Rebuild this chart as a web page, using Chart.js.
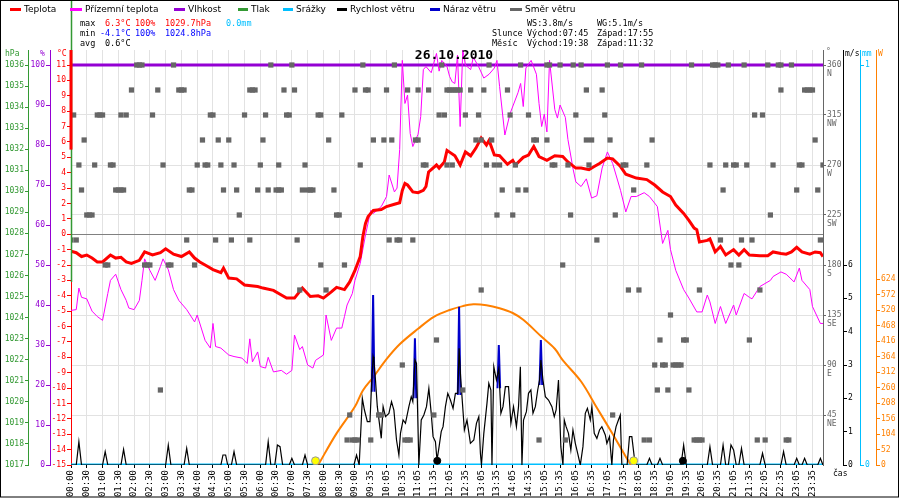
<!DOCTYPE html>
<html><head><meta charset="utf-8">
<script src="https://cdn.jsdelivr.net/npm/chart.js@4/dist/chart.umd.min.js"></script>
<style>html,body{margin:0;padding:0;background:#fff}canvas{display:block}</style>
</head><body>
<canvas id="c" width="900" height="500"></canvas>
<script>
// ---------- DATA (time in 5-minute sample steps from 00:00) ----------
const timeLabels = ['00:00','00:30','01:00','01:30','02:00','02:30','03:00','03:30','04:00','04:30','05:00','05:30','06:00','06:30','07:00','07:30','08:00','08:30','09:00','09:35','10:05','10:35','11:05','11:35','12:05','12:35','13:05','13:35','14:05','14:35','15:05','15:35','16:05','16:35','17:05','17:35','18:05','18:35','19:05','19:35','20:05','20:35','21:05','21:35','22:05','22:35','23:05','23:35'];
const pressureTicks = [1017,1018,1019,1020,1021,1022,1023,1024,1025,1026,1027,1028,1029,1030,1031,1032,1033,1034,1035,1036];
const humidityTicks = [0,10,20,30,40,50,60,70,80,90,100];
const tempTicks = [-15,-14,-13,-12,-11,-10,-9,-8,-7,-6,-5,-4,-3,-2,-1,0,1,2,3,4,5,6,7,8,9,10,11];
const dirTicks = [45,90,135,180,225,270,315,360];
const dirTickNames = ['NE','E','SE','S','SW','W','NW','N'];
const speedTicks = [0,1,2,3,4,5,6];
const rainTicks = [0,1];
const solarTicks = [0,52,104,156,208,260,312,364,416,468,520,572,624];

const temperature = [[0,-1.1],[2,-1.2],[4,-1.45],[6,-1.35],[8,-1.55],[10,-1.8],[12,-1.8],[15,-1.35],[17,-1.55],[19,-1.5],[21,-1.8],[23,-1.9],[26,-1.7],[28,-1.15],[31,-1.35],[34,-1.2],[36,-0.95],[39,-1.3],[42,-1.45],[45,-1.15],[47,-1.55],[49,-1.8],[52,-2.1],[54,-2.3],[57,-2.5],[58,-2.2],[60,-2.85],[63,-2.9],[66,-3.3],[71,-3.4],[73,-3.5],[77,-3.65],[80,-3.95],[82,-4.15],[85,-4.15],[88,-3.5],[91,-4.05],[94,-4.0],[96,-4.15],[99,-3.75],[101,-3.45],[104,-3.6],[106,-3.1],[108,-2.35],[109,-1.9],[110,-1.45],[111,-0.15],[112,0.7],[113,1.15],[115,1.55],[118,1.6],[120,1.8],[123,1.95],[125,2.05],[126,2.85],[127,3.3],[128,3.2],[130,2.75],[132,2.7],[134,2.85],[135,3.1],[136,4.05],[139,4.5],[140,4.3],[142,4.7],[143,5.45],[146,5.1],[148,4.5],[150,5.35],[152,5.1],[154,5.6],[156,6.25],[158,5.8],[159,6.1],[161,5.15],[163,5.1],[166,4.55],[168,4.8],[169,4.5],[172,5.0],[174,5.15],[176,5.7],[178,5.05],[181,4.8],[184,5.1],[187,5.05],[189,4.7],[192,4.3],[194,4.3],[197,4.2],[199,4.4],[201,4.6],[204,4.95],[206,4.9],[209,4.4],[211,3.9],[215,3.65],[219,3.55],[222,3.2],[225,2.75],[228,2.45],[230,1.9],[233,1.35],[235,0.9],[237,0.4],[238,0.3],[239,-0.5],[242,-0.4],[243,-0.3],[245,-1.15],[247,-0.8],[249,-1.35],[252,-1.0],[254,-1.35],[256,-1.0],[258,-1.35],[262,-1.4],[265,-1.4],[267,-1.15],[270,-1.25],[272,-1.3],[274,-1.15],[276,-0.85],[278,-1.15],[281,-1.3],[283,-1.15],[285,-1.2],[286,-1.45]];

const apparentTemp = [[0,-4.95],[2,-4.9],[3,-3.5],[4,-4.1],[6,-4.2],[8,-5.0],[10,-5.35],[12,-5.6],[14,-3.85],[15,-3.0],[17,-2.6],[19,-3.6],[21,-4.3],[22,-4.8],[24,-4.9],[26,-4.3],[27,-3.0],[28,-1.6],[30,-2.35],[32,-3.0],[34,-2.1],[35,-1.6],[37,-2.3],[39,-3.6],[41,-4.3],[44,-4.9],[47,-5.7],[48,-5.25],[51,-6.9],[53,-7.4],[54,-5.8],[55,-7.3],[57,-7.4],[60,-7.85],[62,-7.95],[65,-8.05],[67,-8.4],[68,-6.8],[69,-8.3],[71,-7.65],[72,-8.6],[74,-8.7],[75,-8.0],[77,-8.95],[80,-8.85],[82,-9.1],[84,-8.85],[85,-6.55],[87,-7.5],[88,-7.3],[90,-8.5],[92,-8.7],[93,-8.2],[96,-7.85],[97,-5.25],[99,-6.9],[101,-6.1],[103,-6.1],[104,-5.35],[105,-4.6],[107,-3.85],[108,-3.0],[110,-1.9],[112,-0.05],[114,1.55],[115,1.35],[118,1.8],[120,2.45],[121,3.85],[123,2.75],[124,3.0],[125,5.5],[126,11.3],[127,8.5],[128,9.05],[129,6.55],[130,5.7],[132,6.5],[133,7.65],[134,10.7],[135,10.9],[137,10.5],[139,11.75],[140,10.6],[141,11.3],[143,10.9],[144,10.25],[145,9.9],[146,9.8],[147,11.65],[148,7.0],[149,12.0],[150,11.0],[152,10.7],[153,11.5],[155,10.9],[157,10.15],[159,10.4],[161,10.8],[162,11.3],[163,9.6],[165,6.45],[167,7.85],[170,9.2],[171,9.8],[172,8.3],[173,10.8],[175,11.3],[177,10.4],[178,8.5],[179,7.0],[180,7.8],[181,6.65],[182,11.3],[184,8.1],[185,7.55],[186,8.4],[188,7.6],[189,6.15],[191,4.2],[192,3.4],[194,3.1],[196,3.6],[198,2.35],[200,2.5],[202,4.3],[204,5.35],[206,4.6],[209,2.85],[211,1.45],[213,2.45],[215,2.45],[218,2.7],[220,2.45],[223,1.8],[225,-0.6],[227,0.25],[228,-1.0],[230,-2.35],[233,-3.6],[235,-4.15],[238,-5.05],[240,-5.05],[242,-3.95],[243,-4.4],[245,-5.8],[247,-4.7],[249,-5.8],[252,-4.6],[253,-5.25],[256,-3.85],[258,-4.1],[259,-4.2],[262,-3.4],[266,-3.0],[267,-2.75],[270,-2.45],[272,-2.6],[275,-3.1],[277,-2.2],[278,-3.0],[281,-3.6],[282,-4.7],[285,-5.8],[286,-5.8]];

const humidity = [[0,100],[286,100]];
const rainfall = [[0,0],[286,0]];

const windSpeed = [[0,0],[2,0],[3,0.7],[4,0],[12,0],[13,0.4],[14,0],[19,0],[20,0.47],[21,0],[36,0],[37,0.6],[38,0],[43,0],[44,0.5],[45,0],[57,0],[57.8,0.3],[58.8,0.3],[59.6,0],[61,0],[62,0.4],[63,0],[74,0],[75,0.7],[76,0],[77.5,0],[78.5,0.6],[79.5,0.55],[80.5,0],[83,0],[84,0.2],[85,0],[88,0],[89,0.3],[90,0],[107.6,0],[108.6,0.3],[109.6,0],
[110.8,2.0],[111.6,1.65],[112.7,1.3],[113.7,1.3],[114.4,2.55],[114.9,3.25],[115.2,3.15],[115.8,2.55],[116.5,1.75],[117.3,1.25],[118,0.8],[118.7,1.75],[119.6,1.45],[120.9,1.55],[121.9,1.9],[122.8,1.65],[123.8,0.75],[124.7,0.3],[125.3,0.95],[126.3,1.35],[127.2,1.25],[128.5,1.75],[129.4,2.05],[130,1.9],[130.8,3.15],[131.4,3.05],[132.3,0],[133.2,1.35],[134.2,1.5],[135.2,1.75],[136.1,2.3],[137,1.55],[137.7,0.85],[138.6,0.7],[139.2,0.15],[139.9,0.5],[140.8,1.0],[141.5,1.15],[142.4,1.75],[143.3,2.15],[144.3,1.95],[145.3,1.7],[146.2,2.15],[147.1,2.15],[147.6,3.5],[148.2,2.6],[148.7,2.05],[149.6,1.05],[150.6,1.35],[151.9,0.65],[153.2,0.75],[154.2,1.25],[155.1,1.45],[155.7,0.35],[156.1,0],[157,0.95],[158.2,1.85],[158.9,2.45],[159.7,2.25],[160.1,0],[160.8,2.95],[161.8,2.55],[162.7,2.9],[163.5,1.55],[164.3,1.75],[165.2,2.35],[166.4,2.35],[167.3,1.25],[168.3,1.75],[169.4,1.15],[170.2,1.75],[170.9,2.95],[171.5,0],[172.1,1.35],[173.2,1.6],[174,2.15],[174.9,2.25],[175.7,1.55],[176.6,1.75],[177.5,2.25],[178.2,2.55],[178.7,3.15],[179.5,2.55],[180.4,2.05],[181.6,1.95],[182.9,1.75],[183.8,1.45],[184.5,1.65],[185.4,2.55],[186.3,0.55],[187.1,0],[187.6,1.35],[188.3,1.15],[189.2,0.95],[190.1,0.45],[190.9,1.05],[191.8,0.65],[192.7,0.35],[193.7,0],[194.7,0.55],[195.6,1.55],[196.4,1.7],[197.5,1.35],[198.1,1.75],[199,0.95],[200,0.8],[201,1.05],[201.9,1.15],[203.2,0.9],[203.8,0.65],[204.8,0.85],[205.7,0],[206.3,0.75],[207.3,1.15],[208.2,1.35],[208.9,1.5],[209.5,0],[211.5,0],[212.4,0.85],[213.3,0.85],[214.2,0.25],[215.2,0],
[219,0],[220,0.2],[221,0],[223,0],[224,0.2],[225,0],[232,0],[233,0.6],[234,0],[242,0],[243,0.55],[244,0],[247,0],[248,0.6],[249,0],[250,0],[251,0.6],[252,0.45],[253,0],[254,0],[255,0.5],[256,0],[262,0],[263,0.35],[264,0],[270,0],[271,0.4],[272,0],[275,0],[276,0.2],[277,0],[278,0],[279,0.2],[280,0],[284,0],[285,0.2],[286,0]];

const gustTimes = [114.9,130.8,147.6,162.7,178.7];
const gustValues = [5.1,3.8,4.75,3.6,3.75];
const gustBase = [2.2,2.0,2.1,2.3,2.4];

const solar = [[94,0],[101,106],[108,196],[111,250],[115,295],[120,355],[125,405],[132,457],[138,497],[144,520],[149,533],[153,539],[158,536],[163,526],[168,510],[172,487],[179,430],[184,390],[187,352],[194,280],[200,192],[206,104],[211,28],[213,0]];

// wind direction: sample steps per compass direction
const dirN   = [25,26,27,39,76,84,111,123,141,159,171,181,182,186,191,194,204,209,217,236,244,245,246,250,256,265,269,270,274];
const dirNNW = [23,33,41,42,43,68,69,70,81,85,108,112,113,120,128,132,136,143,144,145,146,147,148,152,157,166,196,202,270,279,280,281,282];
const dirNW  = [1,10,11,12,19,21,31,53,54,66,74,82,83,94,95,103,140,142,150,155,167,174,192,203,260,263];
const dirWNW = [5,50,56,60,73,98,115,119,122,131,132,154,156,160,176,177,181,196,198,205,221,283];
const dirW   = [3,9,15,16,35,48,51,52,57,62,72,79,89,110,134,135,143,145,158,161,163,169,183,184,189,197,210,211,219,243,249,252,253,257,267,277,278,286];
const dirWSW = [4,17,18,19,20,45,46,58,63,71,75,78,79,80,88,90,91,92,100,164,170,173,214,248,276,284];
const dirSW  = [6,7,8,64,101,102,162,168,190,207,266];
const dirSSW = [0,2,44,55,61,68,86,121,124,125,130,200,247,255,259,285];
const dirS   = [13,14,28,29,30,37,38,47,95,104,187,251,254];
const dirSSE = [87,97,156,212,216,239,262];
const dirSE  = [228];
const dirESE = [139,224,233,234,258];
const dirE   = [126,222,225,226,229,230,231,232];
const dirENE = [34,149,223,227,235];
const dirNE  = [106,117,118,138,206];
const dirNNE = [105,107,108,109,114,127,128,129,178,188,218,220,237,238,239,240,261,264,272,273];

const sunEvents = [93,214];        // sunrise 07:45, sunset 17:55
const moonEvents = [139.3,232.7];  // moon set / moon rise
const eventLevel = 14;             // W

// ---------- BUILD ----------
const RED='#ff0000', MAG='#ff00ff', PUR='#9400d3', GRN='#339933', CYA='#00bfff', BLU='#0000cc', GRY='#666666', ORA='#ff8000';
const MONO='"DejaVu Sans Mono", monospace';
const SANS='"DejaVu Sans", sans-serif';
const pts = a => a.map(p => ({x:p[0], y:p[1]}));

const dirGroups = [[dirN,360],[dirNNW,337.5],[dirNW,315],[dirWNW,292.5],[dirW,270],[dirWSW,247.5],[dirSW,225],[dirSSW,202.5],[dirS,180],[dirSSE,157.5],[dirSE,135],[dirESE,112.5],[dirE,90],[dirENE,67.5],[dirNE,45],[dirNNE,22.5]];
const dirPoints = [];
dirGroups.forEach(g => g[0].forEach(t => dirPoints.push({x:t, y:g[1]})));

const gustPoints = [];
gustTimes.forEach((t,i) => {
  gustPoints.push({x:t-0.5, y:gustBase[i]}, {x:t, y:gustValues[i]}, {x:t+0.5, y:gustBase[i]}, {x:t+0.6, y:null});
});

const tickList = arr => s => { s.ticks = arr.map(v => ({value:v})); };
const fixW = w => s => { s.width = w; };
const axisFont = {family:MONO, size:8};
const plain = v => String(v);

function vAxis(pos, weight, min, max, ticks, color, width, extra) {
  return Object.assign({
    type:'linear', position:pos, weight:weight, min:min, max:max,
    afterBuildTicks: tickList(ticks), afterFit: fixW(width),
    ticks:{color:color, font:axisFont, padding:1, autoSkip:false, callback:plain},
    grid:{drawOnChartArea:false, color:color, tickColor:color, tickLength:4},
    border:{color:color, width:1}
  }, extra || {});
}

const deco = {
  id:'deco',
  beforeDraw(chart){ const c=chart.ctx; c.save(); c.fillStyle='#fff'; c.fillRect(0,0,chart.width,chart.height); c.restore(); },
  afterDatasetsDraw(chart){
    const c=chart.ctx, a=chart.chartArea, yT=chart.scales.yT;
    c.save();
    c.strokeStyle=GRN; c.lineWidth=1.5; c.beginPath(); c.moveTo(a.left+0.5,0); c.lineTo(a.left+0.5,yT.getPixelForValue(-3.1)); c.stroke();
    c.strokeStyle=RED; c.lineWidth=3; c.beginPath(); c.moveTo(a.left,a.top); c.lineTo(a.left,yT.getPixelForValue(5.5)); c.stroke();
    c.restore();
  },
  afterDraw(chart){
    const c=chart.ctx;
    c.save();
    // legend
    const leg=[['Teplota',RED,10,21],['Přízemní teplota',MAG,70,82],['Vlhkost',PUR,174,185],['Tlak',GRN,238,248],['Srážky',CYA,283,293],['Rychlost větru','#000',337,347],['Náraz větru',BLU,430,440],['Směr větru',GRY,510,522]];
    c.font='9px '+SANS; c.textBaseline='middle'; c.textAlign='left';
    leg.forEach(l => {
      c.strokeStyle=l[1]; c.lineWidth=3; c.beginPath(); c.moveTo(l[2],9.5); c.lineTo(l[3],9.5); c.stroke();
      c.fillStyle='#000'; c.fillText(l[0], l[3]+3, 9.5);
    });
    // header info
    c.font='8.5px '+MONO;
    const txt=[['max',80,24,'#000'],['6.3°C',105,24,RED],['100%',135,24,RED],['1029.7hPa',165,24,RED],['0.0mm',226,24,CYA],
      ['min',80,34,'#000'],['-4.1°C',100,34,'#0000ff'],['100%',135,34,'#0000ff'],['1024.8hPa',165,34,'#0000ff'],
      ['avg',80,44,'#000'],['0.6°C',105,44,'#000'],
      ['WS:3.8m/s',527,24,'#000'],['WG:5.1m/s',597,24,'#000'],
      ['Slunce',492,34,'#000'],['Východ:07:45',527,34,'#000'],['Západ:17:55',597,34,'#000'],
      ['Měsíc',492,44,'#000'],['Východ:19:38',527,44,'#000'],['Západ:11:32',597,44,'#000']];
    txt.forEach(t => { c.fillStyle=t[3]; c.fillText(t[0],t[1],t[2]); });
    c.font='8px '+MONO;
    const units=[['hPa',5,54,GRN],['%',40,54,PUR],['°C',57,54,RED],['°',826,52,GRY],['m/s',845,54,'#000'],['mm',862,54,CYA],['W',878,54,ORA],['čas',833,474,'#000']];
    units.forEach(t => { c.fillStyle=t[3]; c.fillText(t[0],t[1],t[2]); });
    // title
    c.font='bold 13px '+MONO; c.fillStyle='#000'; c.textAlign='center';
    c.fillText('26.10.2010',454,55.5);
    // frame
    c.strokeStyle='#000'; c.lineWidth=1; c.strokeRect(0.5,0.5,898,496.5);
    c.restore();
  }
};

new Chart(document.getElementById('c'), {
  type:'line',
  data:{datasets:[
    {label:'Měsíc', data:moonEvents.map(t=>({x:t,y:eventLevel})), yAxisID:'yR', showLine:false, pointRadius:3.5, pointBackgroundColor:'#000', pointBorderColor:'#000', order:0},
    {label:'Slunce', data:sunEvents.map(t=>({x:t,y:eventLevel})), yAxisID:'yR', showLine:false, pointRadius:4, pointBackgroundColor:'#ffff00', pointBorderColor:'#999', pointBorderWidth:1, order:0},
    {label:'Směr větru', data:dirPoints, yAxisID:'yD', showLine:false, pointStyle:'rect', pointRadius:3.7, pointBackgroundColor:GRY, pointBorderWidth:0, order:1},
    {label:'Teplota', data:pts(temperature), yAxisID:'yT', borderColor:RED, borderWidth:3, pointRadius:0, tension:0, order:2},
    {label:'Přízemní teplota', data:pts(apparentTemp), yAxisID:'yT', borderColor:MAG, borderWidth:1, pointRadius:0, tension:0, order:3},
    {label:'Vlhkost', data:pts(humidity), yAxisID:'yH', borderColor:PUR, borderWidth:3, pointRadius:0, order:4},
    {label:'Rychlost větru', data:pts(windSpeed), yAxisID:'yW', borderColor:'#000', borderWidth:1.2, pointRadius:0, tension:0, order:5},
    {label:'Náraz větru', data:gustPoints, yAxisID:'yW', borderColor:BLU, borderWidth:2, pointRadius:0, spanGaps:false, order:6},
    {label:'Sluneční záření', data:pts(solar), yAxisID:'yR', borderColor:ORA, borderWidth:2, pointRadius:0, tension:0.35, order:7},
    {label:'Srážky', data:pts(rainfall), yAxisID:'yM', borderColor:CYA, borderWidth:3, pointRadius:0, order:8}
  ]},
  options:{
    responsive:false, animation:false, events:[],
    layout:{padding:{top:50,left:0,right:0,bottom:0}},
    plugins:{legend:{display:false}, tooltip:{enabled:false}},
    scales:{
      x:{type:'linear', position:'bottom', min:0, max:286,
         afterBuildTicks: s => { s.ticks = timeLabels.map((_,i) => ({value:i*6})); },
         afterFit: s => { s.height = 35; },
         ticks:{autoSkip:false, maxRotation:90, minRotation:90, padding:2, color:'#000', font:{family:MONO,size:9}, callback:(v,i)=>timeLabels[i]},
         grid:{color:'#e2e2e2', tickColor:'#000', tickLength:3, lineWidth:1},
         border:{display:false}},
      yP: vAxis('left',3,1017,1036.7125,pressureTicks,GRN,28,{
           grid:{drawOnChartArea:false, color:GRN, tickColor:GRN, tickLength:3}}),
      yH: vAxis('left',2,0,103.75,humidityTicks,PUR,22),
      yT: vAxis('left',1,-15,11.975,tempTicks,RED,21,{
           grid:{drawOnChartArea:true, color:ctx => (ctx.tick && ctx.tick.value===0) ? '#808080' : 'rgba(0,0,0,0)', tickColor:RED, tickLength:4}}),
      yD: vAxis('right',1,0,373.5,dirTicks,GRY,20,{
           ticks:{color:GRY, font:{family:MONO,size:8,lineHeight:1.1}, padding:1, autoSkip:false, labelOffset:4.5, callback:(v,i)=>[String(v), dirTickNames[i]]},
           grid:{drawOnChartArea:true, color:'#e2e2e2', tickColor:GRY, tickLength:3}}),
      yW: vAxis('right',2,0,12.45,speedTicks,'#000',17),
      yM: vAxis('right',3,0,1.0375,rainTicks,CYA,16),
      yR: vAxis('right',4,0,1392.3,solarTicks,ORA,24)
    }
  },
  plugins:[deco]
});
</script>
</body></html>
